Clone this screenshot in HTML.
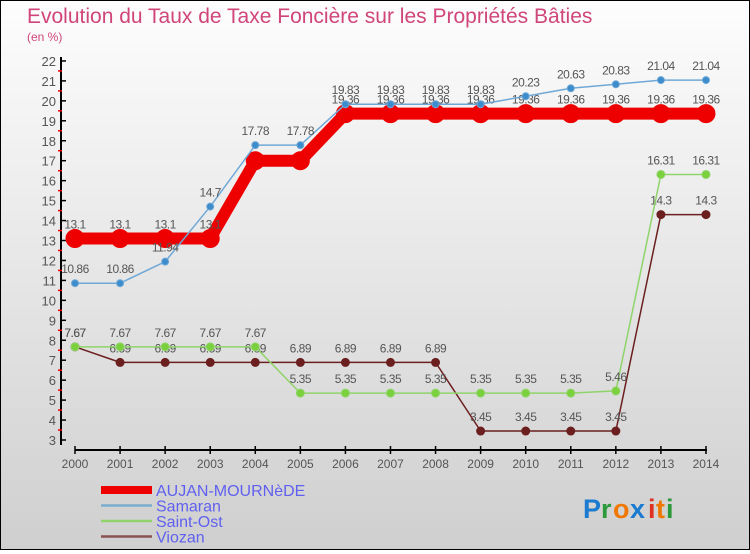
<!DOCTYPE html>
<html><head><meta charset="utf-8"><style>
body{margin:0}
#c{width:748px;height:548px;border:1px solid #000;background:linear-gradient(#fdfdfd,#cfcfcf);position:relative;font-family:"Liberation Sans",sans-serif}
</style></head><body>
<div id="c">
<svg id="s" width="748" height="548" xmlns="http://www.w3.org/2000/svg"></svg>
</div>
<script>
const years=[2000,2001,2002,2003,2004,2005,2006,2007,2008,2009,2010,2011,2012,2013,2014];
const aujan=[13.1,13.1,13.1,13.1,17,17,19.36,19.36,19.36,19.36,19.36,19.36,19.36,19.36,19.36];
const aujanLabels=["13.1","13.1","13.1","13.1","","","19.36","19.36","19.36","19.36","19.36","19.36","19.36","19.36","19.36"];
const samaran=[10.86,10.86,11.94,14.7,17.78,17.78,19.83,19.83,19.83,19.83,20.23,20.63,20.83,21.04,21.04];
const saintOst=[7.67,7.67,7.67,7.67,7.67,5.35,5.35,5.35,5.35,5.35,5.35,5.35,5.46,16.31,16.31];
const viozan=[7.67,6.89,6.89,6.89,6.89,6.89,6.89,6.89,6.89,3.45,3.45,3.45,3.45,14.3,14.3];
const yTicks=[3,4,5,6,7,8,9,10,11,12,13,14,15,16,17,18,19,20,21,22];
const NS="http://www.w3.org/2000/svg",svg=document.getElementById('s');
const X=i=>74+i*45.07, Y=v=>439-(v-3)*19.95;
function el(t,a,name,txt){const e=document.createElementNS(NS,t);for(const k in a)e.setAttribute(k,a[k]);


if(txt!==undefined)e.textContent=txt;svg.appendChild(e);return e;}
el('text',{x:26,y:22,'font-size':21,fill:'#d0457a'},'chart-title','Evolution du Taux de Taxe Foncière sur les Propriétés Bâties');
el('text',{x:26,y:40,'font-size':12,fill:'#d0457a'},'y-axis-unit','(en %)');
el('line',{x1:60,y1:56,x2:60,y2:444,stroke:'#000','stroke-width':2},'y-axis');
yTicks.forEach(v=>{el('line',{x1:60,y1:Y(v),x2:65,y2:Y(v),stroke:'#000','stroke-width':1.5},'y-tick');
if(v<22)el('line',{x1:57,y1:Y(v+0.5),x2:61,y2:Y(v+0.5),stroke:'#e00','stroke-width':1.5},'y-minor-tick');
el('text',{x:55,y:Y(v)+5,'font-size':13,fill:'#555','text-anchor':'end'},'y-tick-label',v);});
el('line',{x1:74,y1:449,x2:706,y2:449,stroke:'#000','stroke-width':2},'x-axis');
years.forEach((y,i)=>{el('line',{x1:X(i),y1:445,x2:X(i),y2:453,stroke:'#000','stroke-width':1.5},'x-tick');
el('text',{x:X(i),y:467,'font-size':12,fill:'#555','text-anchor':'middle'},'x-tick-label',y);});
function series(d,col,w,r,name,labels,fill){
el('polyline',{points:d.map((v,i)=>X(i)+','+Y(v)).join(' '),fill:'none',stroke:col,'stroke-width':w,'stroke-linejoin':'round'},name+'-line');
d.forEach((v,i)=>{el('circle',{cx:X(i),cy:Y(v),r:r,fill:fill,stroke:col,'stroke-width':1},name+'-point');
const l=labels?labels[i]:String(v);if(l)el('text',{x:X(i),y:Y(v)-10,'font-size':12,fill:'#555','text-anchor':'middle','letter-spacing':'-0.5'},name+'-value-label',l);});}
series(viozan,'#6b1f1f',1.5,4,'viozan',null,'#6b1f1f');
series(saintOst,'#8fd46a',1.5,4,'saint-ost',null,'#7bd13d');
series(aujan,'#ee0000',12,9,'aujan',aujanLabels,'#ee0000');
series(samaran,'#6fa8d6',1.5,3.5,'samaran',null,'#3d8ccc');
const leg=[['AUJAN-MOURNèDE','#ee0000',8],['Samaran','#7aaed0',2.5],['Saint-Ost','#8fd46a',2.5],['Viozan','#8b5050',2.5]];
leg.forEach((l,i)=>{const y=493+i*15.5;
el('line',{x1:100,y1:y-4,x2:151,y2:y-4,stroke:l[1],'stroke-width':l[2]},'legend-swatch');
el('text',{x:155,y:y+2,'font-size':16,fill:'#6060f0'},'legend-entry',l[0]);});
const px=[['P','#1a7bd0'],['r','#2a9a3a'],['o','#f07800'],['x','#1a7bd0'],['i','#e03020'],['t','#f07800'],['i','#2a9a3a']];
let xx=582;px.forEach(p=>{el('text',{x:xx,y:517,'font-size':27,'font-weight':'bold',fill:p[1]},'proxiti-logo-letter',p[0]);xx+=p[0]=='x'?18:p[0]=='P'?18:p[0]=='o'?17:p[0]=='r'?12:p[0]=='t'?10:8;});
</script>
</body></html>
